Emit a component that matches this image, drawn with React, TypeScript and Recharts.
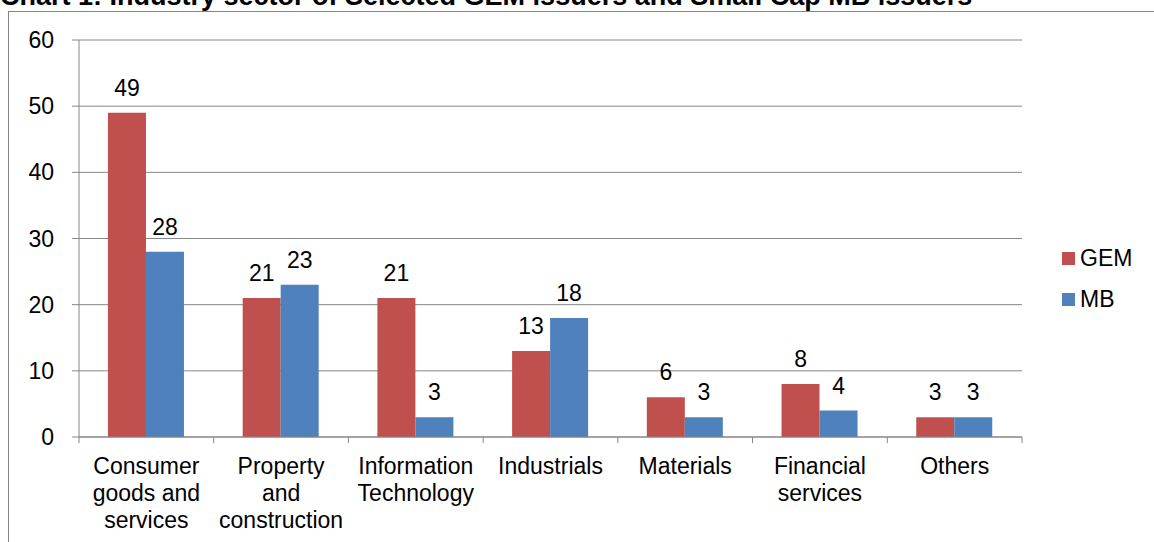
import React from 'react';
import { BarChart, Bar, XAxis, YAxis, CartesianGrid, Legend, LabelList } from 'recharts';

const categories = [
  'Consumer goods and services',
  'Property and construction',
  'Information Technology',
  'Industrials',
  'Materials',
  'Financial services',
  'Others',
];
const categoryLines = [
  ['Consumer', 'goods and', 'services'],
  ['Property', 'and', 'construction'],
  ['Information', 'Technology'],
  ['Industrials'],
  ['Materials'],
  ['Financial', 'services'],
  ['Others'],
];
const gemValues = [49, 21, 21, 13, 6, 8, 3];
const mbValues = [28, 23, 3, 18, 3, 4, 3];
const yTicks = [0, 10, 20, 30, 40, 50, 60];
const seriesNames = ['GEM', 'MB'];
const seriesColors = ['#C0504D', '#4F81BD'];
const titleText = 'Chart 1: Industry sector of Selected GEM issuers and Small Cap MB issuers';

const FONT = '"Liberation Sans", Arial, Helvetica, sans-serif';
const AXIS = '#868686';

const data = categories.map((c, i) => ({ name: c, GEM: gemValues[i], MB: mbValues[i] }));

const CategoryTick = (props: any) => {
  const { x, y, payload, index, visibleTicksCount, width } = props;
  const count = visibleTicksCount || categories.length;
  const half = width ? width / count / 2 : (payload && payload.offset) || 0;
  const lines = categoryLines[index] || [String(payload.value)];
  return (
    <g>
      <line x1={x - half} x2={x - half} y1={y} y2={y + 6} stroke={AXIS} strokeWidth={1} />
      {index === count - 1 && (
        <line x1={x + half} x2={x + half} y1={y} y2={y + 6} stroke={AXIS} strokeWidth={1} />
      )}
      <text x={x} y={y} textAnchor="middle" fontSize={23} fill="#000" fontFamily={FONT}>
        {lines.map((l, i) => (
          <tspan key={i} x={x} y={y + 36.5 + i * 27}>
            {l}
          </tspan>
        ))}
      </text>
    </g>
  );
};

const renderLegend = () => (
  <div style={{ fontFamily: FONT, fontSize: 23, color: '#000' }}>
    {seriesNames.map((n, i) => (
      <div key={n} style={{ display: 'flex', alignItems: 'center', height: 41 }}>
        <span
          style={{ width: 13, height: 13, background: seriesColors[i], marginRight: 5, flexShrink: 0 }}
        />
        <span style={{ lineHeight: '41px' }}>{n}</span>
      </div>
    ))}
  </div>
);

export default function App() {
  return (
    <div
      style={{
        position: 'fixed',
        left: 0,
        top: 0,
        width: 1154,
        height: 542,
        overflow: 'hidden',
        background: '#fff',
      }}
    >
      <div
        style={{
          position: 'absolute',
          left: 8,
          top: 11,
          width: 1400,
          height: 800,
          border: `1px solid ${AXIS}`,
          boxSizing: 'border-box',
        }}
      />
      <div
        style={{
          position: 'absolute',
          left: 0,
          top: -19,
          fontFamily: FONT,
          fontWeight: 'bold',
          fontSize: 27,
          lineHeight: '30px',
          whiteSpace: 'nowrap',
          color: '#000',
        }}
      >
        {titleText}
      </div>
      <div style={{ position: 'absolute', left: 0, top: 0 }}>
        <BarChart
          width={1154}
          height={542}
          data={data}
          margin={{ top: 40, right: 132, bottom: 0, left: 0 }}
          barCategoryGap="21.5%"
          barGap={0}
        >
          <CartesianGrid vertical={false} stroke={AXIS} strokeDasharray="" />
          <XAxis
            dataKey="name"
            interval={0}
            height={105}
            tickSize={0}
            tickMargin={0}
            tickLine={false}
            axisLine={{ stroke: AXIS }}
            tick={<CategoryTick />}
          />
          <YAxis
            width={79}
            domain={[0, 60]}
            ticks={yTicks}
            interval={0}
            tickSize={7}
            tickMargin={18}
            axisLine={{ stroke: AXIS }}
            tickLine={{ stroke: AXIS }}
            tick={{ fontSize: 23, fill: '#000', fontFamily: FONT }}
          />
          <Legend
            layout="vertical"
            align="center"
            verticalAlign="middle"
            content={renderLegend}
            wrapperStyle={{ left: 1062, top: 238, width: 90, height: 82 }}
          />
          <Bar dataKey="GEM" fill={seriesColors[0]} isAnimationActive={false}>
            <LabelList dataKey="GEM" position="top" offset={17} fill="#000" fontSize={23} fontFamily={FONT} />
          </Bar>
          <Bar dataKey="MB" fill={seriesColors[1]} isAnimationActive={false}>
            <LabelList dataKey="MB" position="top" offset={17} fill="#000" fontSize={23} fontFamily={FONT} />
          </Bar>
        </BarChart>
      </div>
    </div>
  );
}
